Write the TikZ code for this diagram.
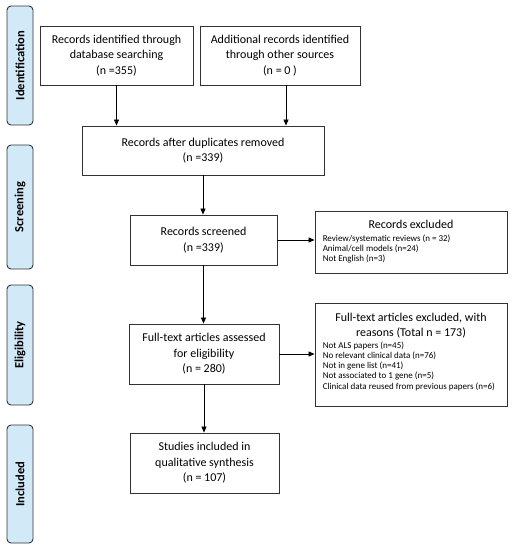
\documentclass[tikz,border=0pt]{standalone}
\usepackage{fontspec}
\setmainfont{Carlito}
\usetikzlibrary{arrows.meta}
\definecolor{sidefill}{HTML}{D2E9F8}
\definecolor{linec}{HTML}{333333}
\tikzset{
  mainbox/.style={draw=linec, line width=0.9pt, align=center, inner sep=2pt,
    font=\fontsize{12}{15.5}\selectfont},
  sidebar/.style={draw=linec, line width=0.9pt, fill=sidefill, rounded corners=4pt,
    minimum height=26pt, rotate=90, font=\bfseries\fontsize{12.5}{14}\selectfont},
  exbox/.style={draw=linec, line width=0.9pt},
  exhead/.style={anchor=north, align=center, inner sep=0pt, font=\fontsize{12}{15}\selectfont},
  exlist/.style={anchor=north west, align=left, inner sep=0pt, font=\fontsize{9}{10.2}\selectfont},
  arr/.style={draw=black, line width=0.8pt, -{Triangle[length=6pt,width=5pt]}}
}
\begin{document}
\begin{tikzpicture}[x=1pt,y=-1pt]
\useasboundingbox (0,0) rectangle (512,550);
% side bars
\node[sidebar, minimum width=119pt] (sid) at (20,65.5) {Identification};
\node[sidebar, minimum width=124pt] (sscr) at (20,207) {Screening};
\node[sidebar, minimum width=120pt] (selg) at (20,345) {Eligibility};
\node[sidebar, minimum width=118pt] (sinc) at (20,484) {Included};
% main boxes
\node[mainbox, minimum width=153pt, minimum height=59pt] (db) at (116.5,55.5)
  {Records identified through\\database searching\\(n =355)};
\node[mainbox, minimum width=160pt, minimum height=59pt] (other) at (280,55.5)
  {Additional records identified\\through other sources\\(n = 0 )};
\node[mainbox, minimum width=242pt, minimum height=49pt] (dup) at (203,150.5)
  {Records after duplicates removed\\(n =339)};
\node[mainbox, minimum width=147pt, minimum height=50pt] (scr) at (203.5,240)
  {Records screened\\(n =339)};
\node[mainbox, minimum width=150pt, minimum height=60pt] (ft) at (204,354)
  {Full-text articles assessed\\for eligibility\\(n = 280)};
\node[mainbox, minimum width=149pt, minimum height=60pt] (inc) at (204.5,463)
  {Studies included in\\qualitative synthesis\\(n = 107)};
% excluded boxes
\node[exbox, minimum width=192pt, minimum height=62pt] (ex1) at (411,242) {};
\node[exhead] (ex1h) at ([yshift=-9pt]ex1.north) {Records excluded};
\node[exlist] (ex1l) at ([xshift=8pt,yshift=-24pt]ex1.north west)
  {Review/systematic reviews (n = 32)\\
   Animal/cell models (n=24)\\
   Not English (n=3)};
\node[exbox, minimum width=192pt, minimum height=103pt] (ex2) at (411,354.5) {};
\node[exhead] (ex2h) at ([yshift=-10pt]ex2.north)
  {Full-text articles excluded, with\\reasons (Total n = 173)};
\node[exlist] (ex2l) at ([xshift=8pt,yshift=-39pt]ex2.north west)
  {Not ALS papers (n=45)\\
   No relevant clinical data (n=76)\\
   Not in gene list (n=41)\\
   Not associated to 1 gene (n=5)\\
   Clinical data reused from previous papers (n=6)};
% arrows
\draw[arr] (db.south) -- (db.south |- dup.north);
\coordinate (o2) at ([xshift=6pt]other.south);
\draw[arr] (o2) -- (o2 |- dup.north);
\draw[arr] (dup.south) -- (dup.south |- scr.north);
\draw[arr] (scr.east) -- (scr.east -| ex1.west);
\draw[arr] (scr.south) -- (scr.south |- ft.north);
\draw[arr] (ft.east) -- (ft.east -| ex2.west);
\draw[arr] (ft.south) -- (ft.south |- inc.north);
\end{tikzpicture}
\end{document}
